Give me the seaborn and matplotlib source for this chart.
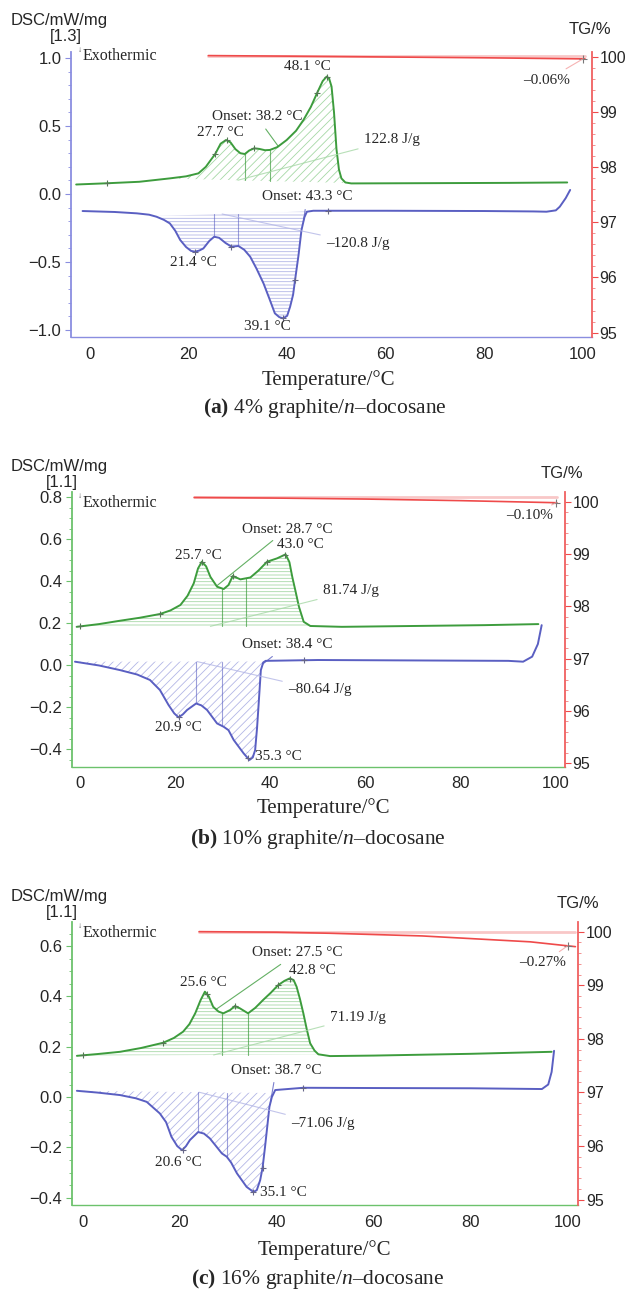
import numpy as np
import matplotlib
matplotlib.use("Agg")
import matplotlib.pyplot as plt
from matplotlib.ticker import MultipleLocator
import seaborn as sns

# ---------------- values ----------------
# (a) 4% graphite / n-docosane
a_heat_t = [-2.8, 3.4, 10.0, 16.2, 19.5, 22.0, 23.5, 24.5, 25.4, 26.5, 27.6, 28.5, 29.5, 30.5, 31.4,
            32.3, 33.3, 34.3, 35.5, 36.5, 38.0, 39.9, 41.8, 43.3, 44.8, 46.1, 47.2, 48.0, 48.5, 49.0,
            49.5, 50.0, 50.5, 51.0, 51.8, 53.0, 70.0, 85.0, 96.8]
a_heat_dsc = [0.070, 0.079, 0.090, 0.115, 0.130, 0.152, 0.20, 0.25, 0.294, 0.37, 0.397, 0.38, 0.33, 0.30,
              0.294, 0.32, 0.336, 0.332, 0.322, 0.324, 0.345, 0.397, 0.465, 0.544, 0.64, 0.745, 0.83,
              0.863, 0.85, 0.79, 0.60, 0.33, 0.18, 0.115, 0.085, 0.078, 0.080, 0.082, 0.085]
a_cool_t = [-1.5, 5, 9.5, 12, 13.5, 15, 16.2, 17.3, 18.3, 19.5, 20.5, 21.3, 22.2, 23.0, 24.2, 25.2,
            26.2, 27.5, 28.7, 30.1, 31.3, 32.5, 33.8, 35.2, 36.4, 37.5, 38.4, 39.2, 40.0, 40.6, 41.2,
            41.6, 42.3, 42.9, 43.5, 44.0, 45.3, 60, 80, 90, 92.6, 94.5, 95.3, 96.5, 97.4]
a_cool_dsc = [-0.125, -0.132, -0.142, -0.152, -0.167, -0.19, -0.216, -0.27, -0.338, -0.39, -0.418,
              -0.424, -0.415, -0.40, -0.345, -0.314, -0.322, -0.36, -0.387, -0.382, -0.41, -0.461,
              -0.55, -0.657, -0.77, -0.877, -0.905, -0.914, -0.895, -0.828, -0.74, -0.632, -0.45,
              -0.265, -0.17, -0.130, -0.123, -0.123, -0.125, -0.128, -0.130, -0.12, -0.093, -0.03, 0.03]
a_tg_t = [24, 40, 60, 80, 100.4]
a_tg = [100.02, 100.01, 99.995, 99.98, 99.96]
a_heat_marks = [25.4, 27.7, 33.3, 46.1, 48.1, 3.4]
a_cool_marks = [21.4, 28.7, 39.1, 41.6, 48.2]
a_split_heat = [31.4, 36.5]
a_split_cool = [25.2, 30.1]
a_onset = [38.2, 43.3]
a_labels = ["48.1 °C", "Onset: 38.2 °C", "27.7 °C", "122.8 J/g",
            "Onset: 43.3 °C", "21.4 °C", "–120.8 J/g", "39.1 °C", "–0.06%"]

# (b) 10% graphite / n-docosane
b_heat_t = [-0.7, 4, 8.4, 12.5, 16.8, 19, 21.1, 22.6, 23.9, 24.8, 25.6, 26.5, 27.4, 28.8, 30.2, 31.2,
            32.1, 33.0, 33.7, 35.8, 37.5, 39.3, 41.4, 43.2, 44.0, 44.6, 45.3, 46.0, 47.0, 48.4, 55,
            70, 85, 96.3]
b_heat_dsc = [0.182, 0.195, 0.211, 0.225, 0.243, 0.26, 0.286, 0.33, 0.389, 0.46, 0.492, 0.47, 0.42,
              0.373, 0.362, 0.381, 0.424, 0.415, 0.408, 0.417, 0.45, 0.492, 0.508, 0.527, 0.49, 0.42,
              0.35, 0.278, 0.206, 0.186, 0.182, 0.186, 0.19, 0.195]
b_cool_t = [-1.05, 4, 8.4, 12, 14.7, 16.8, 18.6, 19.8, 20.7, 21.6, 22.5, 24.4, 25.5, 26.7, 28.8, 30.2,
            31.2, 32.3, 34.4, 35.6, 36.3, 36.8, 37.2, 37.5, 38.0, 38.5, 39.0, 50, 70, 90, 93.1, 95,
            96.2, 97.0]
b_cool_dsc = [0.016, -0.002, -0.024, -0.045, -0.071, -0.119, -0.19, -0.23, -0.249, -0.235, -0.214,
              -0.183, -0.192, -0.214, -0.278, -0.294, -0.31, -0.357, -0.421, -0.452, -0.44, -0.405,
              -0.30, -0.198, -0.024, 0.012, 0.02, 0.024, 0.022, 0.02, 0.016, 0.04, 0.10, 0.19]
b_tg_t = [24, 40, 60, 80, 100.2]
b_tg = [100.08, 100.07, 100.05, 100.02, 99.98]
b_heat_marks = [0.0, 16.8, 25.7, 32.1, 39.3, 43.0]
b_cool_marks = [20.9, 35.3, 47.0]
b_split_heat = [29.8, 34.9]
b_split_cool = [24.4, 29.8]
b_onset = [28.7, 38.4]
b_labels = ["43.0 °C", "Onset: 28.7 °C", "25.7 °C", "81.74 J/g",
            "Onset: 38.4 °C", "20.9 °C", "–80.64 J/g", "35.3 °C", "–0.10%"]

# (c) 16% graphite / n-docosane
c_heat_t = [-1.2, 3, 7.7, 12, 16.6, 18.8, 20.7, 22.0, 23.2, 24.3, 25.2, 26.0, 26.9, 28.0, 29.0, 30.4,
            31.4, 32.4, 34.1, 35.6, 37.2, 38.8, 40.3, 41.6, 42.7, 43.5, 44.1, 44.8, 45.5, 46.2, 46.9,
            47.8, 48.6, 51.0, 60, 80, 96.7]
c_heat_dsc = [0.164, 0.171, 0.18, 0.195, 0.216, 0.235, 0.26, 0.29, 0.333, 0.385, 0.419, 0.40, 0.359,
              0.34, 0.333, 0.346, 0.362, 0.353, 0.333, 0.355, 0.386, 0.415, 0.445, 0.462, 0.472, 0.465,
              0.439, 0.39, 0.333, 0.27, 0.214, 0.185, 0.17, 0.163, 0.165, 0.172, 0.18]
c_cool_t = [-1.2, 3, 7.7, 11, 13.2, 15.9, 17.2, 18.3, 19.5, 20.5, 21.3, 22.1, 23.8, 25, 26.2, 27.5,
            28.7, 29.7, 30.6, 31.8, 33.8, 35.2, 35.9, 36.6, 37.1, 37.6, 38.1, 38.5, 39.0, 39.7, 45.5,
            60, 80, 94.7, 96, 96.7, 97.2]
c_cool_dsc = [0.025, 0.018, 0.008, -0.005, -0.019, -0.065, -0.10, -0.158, -0.195, -0.211, -0.195,
              -0.171, -0.139, -0.145, -0.164, -0.195, -0.224, -0.237, -0.26, -0.303, -0.357, -0.377,
              -0.37, -0.33, -0.28, -0.198, -0.11, -0.039, 0.0, 0.028, 0.037, 0.036, 0.035, 0.032,
              0.05, 0.10, 0.184]
c_tg_t = [24, 40, 51, 70, 92.3, 101.6]
c_tg = [100.0, 99.99, 99.97, 99.92, 99.81, 99.72]
c_heat_marks = [0.0, 16.6, 25.6, 31.4, 40.3, 42.8]
c_cool_marks = [20.6, 35.1, 37.1, 45.5]
c_split_heat = [28.8, 34.1]
c_split_cool = [23.8, 29.7]
c_onset = [27.5, 38.7]
c_labels = ["42.8 °C", "Onset: 27.5 °C", "25.6 °C", "71.19 J/g",
            "Onset: 38.7 °C", "20.6 °C", "–71.06 J/g", "35.1 °C", "–0.27%"]

captions = [r"$\mathbf{(a)}$ 4% graphite/$\mathit{n}$–docosane",
            r"$\mathbf{(b)}$ 10% graphite/$\mathit{n}$–docosane",
            r"$\mathbf{(c)}$ 16% graphite/$\mathit{n}$–docosane"]
scales = ["[1.3]", "[1.1]", "[1.1]"]

# ---------------- style ----------------
sns.set_style("white")
plt.rcParams["font.family"] = ["Liberation Sans", "DejaVu Sans"]
plt.rcParams["mathtext.fontset"] = "custom"
plt.rcParams["mathtext.rm"] = "Liberation Serif"
plt.rcParams["mathtext.it"] = "Liberation Serif:italic"
plt.rcParams["mathtext.bf"] = "Liberation Serif:bold"
plt.rcParams["hatch.linewidth"] = 0.6
SERIF = ["Liberation Serif", "DejaVu Serif"]

GREEN = "#3d9c3d"
BLUE = "#5a5fc2"
RED = "#ef4a4a"
LGREEN = "#a6d8a6"
LBLUE = "#b3b6e6"

W, H = 628, 1292
fig = plt.figure(figsize=(W / 100, H / 100), dpi=100)


def fxy(px, py):
    return px / W, 1 - py / H


data = [
    (a_heat_t, a_heat_dsc, a_cool_t, a_cool_dsc, a_tg_t, a_tg, a_heat_marks, a_cool_marks,
     a_split_heat, a_split_cool, a_onset, a_labels),
    (b_heat_t, b_heat_dsc, b_cool_t, b_cool_dsc, b_tg_t, b_tg, b_heat_marks, b_cool_marks,
     b_split_heat, b_split_cool, b_onset, b_labels),
    (c_heat_t, c_heat_dsc, c_cool_t, c_cool_dsc, c_tg_t, c_tg, c_heat_marks, c_cool_marks,
     c_split_heat, c_split_cool, c_onset, c_labels),
]

# layout (pixel positions in the 628x1292 picture)
layout = [
    dict(box=(71, 591.7, 52, 337), xlim=(-3.85, 101.77), ylim=(-1.051, 1.044), tglim=(94.92, 100.085),
         spine="#8a8ee0", major=0.5, minor=0.1, heat_range=(16, 52.5), cool_range=(13, 44.5),
         heat_hatch="////", cool_hatch="-----", int_t=(30, 26.8),
         text=[(307, 67), (257, 117), (220, 133), (392, 140), (307, 197), (193, 262), (358, 243),
               (267, 326), (547, 80)],
         dsc_lab=(59, 20), scale=(66, 37), tg_lab=(590, 30), exo=(83, 56), xlab=(328, 380),
         cap=(325, 408)),
    dict(box=(71.7, 565, 492, 766.7), xlim=(-1.74, 101.9), ylim=(-0.484, 0.824), tglim=(94.935, 100.185),
         spine="#6cc26c", major=0.2, minor=0.05, heat_range=(-0.7, 48.4), cool_range=(-1.05, 38.8),
         heat_hatch="-----", cool_hatch="////", int_t=(27.4, 24.6),
         text=[(300, 544), (287, 529), (198, 555), (351, 591), (287, 645), (178, 728), (320, 690),
               (278, 757), (530, 516)],
         dsc_lab=(59, 467), scale=(62, 482), tg_lab=(562, 473), exo=(83, 503), xlab=(323, 808),
         cap=(318, 839)),
    dict(box=(71.7, 578.3, 922, 1205), xlim=(-2.27, 102.2), ylim=(-0.429, 0.696), tglim=(94.9, 100.18),
         spine="#6cc26c", major=0.2, minor=0.05, heat_range=(-1.2, 48.6), cool_range=(-1.2, 39.4),
         heat_hatch="-----", cool_hatch="////", int_t=(27.0, 24.0),
         text=[(312, 970), (297, 953), (203, 983), (358, 1017), (276, 1070), (178, 1163), (323, 1124),
               (283, 1193), (543, 963)],
         dsc_lab=(59, 897), scale=(62, 913), tg_lab=(578, 903), exo=(83, 933), xlab=(324, 1250),
         cap=(318, 1279)),
]


def hatch_fill(ax, t, y, rng, hatch, col):
    t = np.asarray(t, float)
    y = np.asarray(y, float)
    t0, t1 = rng
    y0, y1 = np.interp(t0, t, y), np.interp(t1, t, y)
    inside = (t > t0) & (t < t1)
    tt = np.concatenate([[t0], t[inside], [t1]])
    yy = np.concatenate([[y0], y[inside], [y1]])
    base = y0 + (y1 - y0) * (tt - t0) / (t1 - t0)
    ax.fill_between(tt, yy, base, facecolor="none", edgecolor=col, hatch=hatch, linewidth=0)
    return lambda v: y0 + (y1 - y0) * (v - t0) / (t1 - t0)


for i, (d, lay) in enumerate(zip(data, layout)):
    (ht, hy, ct, cy, gt, gy, hmarks, cmarks, hsplit, csplit, onset, labels) = d
    l, r, t, b = lay["box"]
    x0, y0 = fxy(l, b)
    x1, y1 = fxy(r, t)
    ax = fig.add_axes([x0, y0, x1 - x0, y1 - y0])
    ax.patch.set_alpha(0)

    # hatched integration areas
    hbase = hatch_fill(ax, ht, hy, lay["heat_range"], lay["heat_hatch"], LGREEN)
    cbase = hatch_fill(ax, ct, cy, lay["cool_range"], lay["cool_hatch"], LBLUE)
    for s in hsplit:
        ax.plot([s, s], [hbase(s), np.interp(s, ht, hy)], color=GREEN, lw=0.8, alpha=0.7)
    for s in csplit:
        ax.plot([s, s], [cbase(s), np.interp(s, ct, cy)], color=BLUE, lw=0.8, alpha=0.6)

    sns.lineplot(x=ht, y=hy, ax=ax, color=GREEN, lw=1.4, estimator=None, sort=False)
    sns.lineplot(x=ct, y=cy, ax=ax, color=BLUE, lw=1.4, estimator=None, sort=False)
    ax.plot(hmarks, np.interp(hmarks, ht, hy), ls="none", marker="+", ms=5, mew=0.8, color="#557755")
    ax.plot(cmarks, np.interp(cmarks, ct, cy), ls="none", marker="+", ms=5, mew=0.8, color="#666688")

    ax.set_xlim(*lay["xlim"])
    ax.set_ylim(*lay["ylim"])
    ax.set_xlabel("")
    ax.set_ylabel("")
    ax.xaxis.set_major_locator(MultipleLocator(20))
    ax.xaxis.set_minor_locator(MultipleLocator(10))
    ax.yaxis.set_major_locator(MultipleLocator(lay["major"]))
    ax.yaxis.set_minor_locator(MultipleLocator(lay["minor"]))
    ax.tick_params(axis="both", which="major", direction="out", length=4, width=0.8,
                   labelsize=12, pad=3, color="#888888")
    ax.tick_params(axis="both", which="minor", direction="out", length=2.5, width=0.6, color="#aaaaaa")
    ax.tick_params(axis="y", which="both", color=lay["spine"])
    for side in ["top", "right"]:
        ax.spines[side].set_visible(False)
    ax.spines["left"].set_color(lay["spine"])
    ax.spines["left"].set_linewidth(1.3)
    ax.spines["bottom"].set_color(lay["spine"])
    ax.spines["bottom"].set_linewidth(1.0)

    # TG on the right
    ax2 = ax.twinx()
    ax2.set_ylim(*lay["tglim"])
    ax2.plot([gt[0], gt[-1]], [gy[0], gy[0]], color="#f6b0b0", lw=2.0, alpha=0.7)
    sns.lineplot(x=gt, y=gy, ax=ax2, color=RED, lw=1.2, estimator=None, sort=False)
    ax2.plot([100], [np.interp(100, gt, gy)], marker="+", ms=6, mew=0.8, color="#777777")
    ax2.set_ylabel("")
    ax2.yaxis.set_major_locator(MultipleLocator(1))
    ax2.yaxis.set_minor_locator(MultipleLocator(0.2))
    ax2.tick_params(axis="y", which="major", direction="out", length=4, width=0.8, labelsize=11.5,
                    pad=1.5, color=RED)
    ax2.tick_params(axis="y", which="minor", direction="out", length=2.5, width=0.6, color="#f08080")
    for side in ["top", "left", "bottom"]:
        ax2.spines[side].set_visible(False)
    ax2.spines["right"].set_color("#f06060")
    ax2.spines["right"].set_linewidth(1.3)

    # annotations
    txt = lay["text"]
    targets = [None,
               (ax, (onset[0], np.interp(onset[0], ht, hy)), GREEN),
               None,
               (ax, (lay["int_t"][0], hbase(lay["int_t"][0])), LGREEN),
               (ax, (onset[1], np.interp(onset[1], ct, cy)), BLUE),
               None,
               (ax, (lay["int_t"][1], cbase(lay["int_t"][1])), LBLUE),
               None,
               (ax2, (100, np.interp(100, gt, gy)), "#f4a0a0")]
    for lab, pos, tg in zip(labels, txt, targets):
        if tg is None:
            fig.text(*fxy(*pos), lab, ha="center", va="center", fontsize=11, family=SERIF)
        else:
            tax, xy, col = tg
            tax.annotate(lab, xy=xy, xycoords="data", xytext=fxy(*pos), textcoords="figure fraction",
                         ha="center", va="center", fontsize=11, family=SERIF,
                         arrowprops=dict(arrowstyle="-", color=col, lw=0.8, alpha=0.8,
                                         shrinkA=2, shrinkB=0))

    fig.text(*fxy(*lay["exo"]), "Exothermic", ha="left", va="center", fontsize=11.5, family=SERIF)
    fig.text(*fxy(lay["exo"][0] - 2.5, lay["exo"][1] - 6), "↓", ha="center", va="center",
             fontsize=6, color="#555555")
    fig.text(*fxy(*lay["dsc_lab"]), "DSC/mW/mg", ha="center", va="center", fontsize=12)
    fig.text(*fxy(*lay["scale"]), scales[i], ha="center", va="center", fontsize=12)
    fig.text(*fxy(*lay["tg_lab"]), "TG/%", ha="center", va="center", fontsize=12)
    fig.text(*fxy(*lay["xlab"]), "Temperature/°C", ha="center", va="center", fontsize=15,
             family=SERIF)
    fig.text(*fxy(*lay["cap"]), captions[i], ha="center", va="center", fontsize=15.5,
             family=SERIF)

fig.savefig("out.png", dpi=100)
